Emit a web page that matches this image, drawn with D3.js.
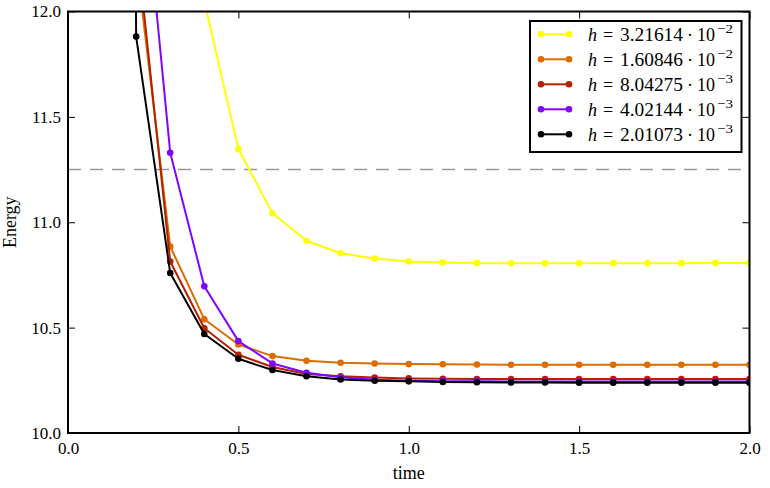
<!DOCTYPE html>
<html>
<head>
<meta charset="utf-8">
<script src="https://cdn.jsdelivr.net/npm/d3@7"></script>
<style>
  html, body { margin: 0; padding: 0; background: #fff; }
  svg { display: block; }
</style>
</head>
<body>
<svg id="chart" width="770" height="488"></svg>
<script>
// ---------- data ----------
const times = [0.1, 0.2, 0.3, 0.4, 0.5, 0.6, 0.7, 0.8, 0.9, 1.0,
               1.1, 1.2, 1.3, 1.4, 1.5, 1.6, 1.7, 1.8, 1.9, 2.0];

const seriesNames = ["3.21614", "1.60846", "8.04275", "4.02144", "2.01073"];
const seriesExps  = ["−2", "−2", "−3", "−3", "−3"];
const seriesColors = ["#ffff00", "#dd6c00", "#b42000", "#8004ff", "#000000"];

const energyH1 = [20.0, 16.0, 13.5, 12.05, 11.348, 11.043, 10.912, 10.853, 10.828, 10.814,
                  10.809, 10.806, 10.805, 10.805, 10.805, 10.806, 10.806, 10.806, 10.807, 10.807];
const energyH2 = [25.0, 12.25, 10.885, 10.540, 10.420, 10.365, 10.343, 10.333, 10.330, 10.327,
                  10.326, 10.325, 10.324, 10.324, 10.324, 10.324, 10.324, 10.324, 10.324, 10.324];
const energyH3 = [26.0, 12.35, 10.814, 10.497, 10.371, 10.313, 10.280, 10.269, 10.263, 10.259,
                  10.257, 10.256, 10.256, 10.256, 10.256, 10.256, 10.256, 10.256, 10.256, 10.256];
const energyH4 = [30.0, 13.0, 11.330, 10.696, 10.436, 10.330, 10.286, 10.264, 10.253, 10.248,
                  10.246, 10.245, 10.244, 10.244, 10.244, 10.244, 10.244, 10.244, 10.244, 10.244];
const energyH5 = [40.0, 11.881, 10.759, 10.470, 10.352, 10.299, 10.269, 10.254, 10.248, 10.245,
                  10.242, 10.241, 10.240, 10.240, 10.239, 10.239, 10.239, 10.239, 10.239, 10.239];

const referenceEnergy = 11.25;
const xTicks = [0.0, 0.5, 1.0, 1.5, 2.0];
const yTicks = [10.0, 10.5, 11.0, 11.5, 12.0];
const xDomain = [0, 2];
const yDomain = [10, 12];

const allSeries = [energyH1, energyH2, energyH3, energyH4, energyH5];

// ---------- layout ----------
const FONT = "Liberation Serif";
const L = 68, R = 749.5, T = 11.5, B = 433;
const svg = d3.select("#chart");
const x = d3.scaleLinear().domain(xDomain).range([L, R]);
const y = d3.scaleLinear().domain(yDomain).range([B, T]);

svg.append("defs").append("clipPath").attr("id", "plotclip")
  .append("rect").attr("x", L).attr("y", T).attr("width", R - L).attr("height", B - T);

const plot = svg.append("g").attr("clip-path", "url(#plotclip)");

plot.append("line")
  .attr("x1", L).attr("x2", R)
  .attr("y1", y(referenceEnergy)).attr("y2", y(referenceEnergy))
  .attr("stroke", "#999").attr("stroke-width", 1.6)
  .attr("stroke-dasharray", "13,9");

const line = d3.line().x((d, i) => x(times[i])).y(d => y(d));

allSeries.forEach((vals, si) => {
  const g = plot.append("g");
  g.append("path").datum(vals)
    .attr("d", line)
    .attr("fill", "none")
    .attr("stroke", seriesColors[si])
    .attr("stroke-width", 2)
    .attr("stroke-linejoin", "round");
  g.selectAll("circle").data(vals).enter().append("circle")
    .attr("cx", (d, i) => x(times[i]))
    .attr("cy", d => y(d))
    .attr("r", 3.3)
    .attr("fill", seriesColors[si]);
});

// ---------- axes ----------
const fmt = d3.format(".1f");
const tickLen = 7;

const axB = svg.append("g").attr("transform", `translate(0,${B})`)
  .call(d3.axisBottom(x).tickValues(xTicks).tickFormat(fmt).tickSize(-tickLen).tickSizeOuter(0));
const axT = svg.append("g").attr("transform", `translate(0,${T})`)
  .call(d3.axisTop(x).tickValues(xTicks).tickFormat("").tickSize(-tickLen).tickSizeOuter(0));
const axLft = svg.append("g").attr("transform", `translate(${L},0)`)
  .call(d3.axisLeft(y).tickValues(yTicks).tickFormat(fmt).tickSize(-tickLen).tickSizeOuter(0));
const axRgt = svg.append("g").attr("transform", `translate(${R},0)`)
  .call(d3.axisRight(y).tickValues(yTicks).tickFormat("").tickSize(-tickLen).tickSizeOuter(0));

[axB, axT, axLft, axRgt].forEach(a => {
  a.attr("font-family", FONT).attr("font-size", 17);
  a.select(".domain").remove();
  a.selectAll(".tick line").attr("stroke", "#000").attr("stroke-width", 1);
  a.selectAll("text").attr("fill", "#000");
});
axB.selectAll(".tick text").attr("y", 21).attr("dy", "0");
axLft.selectAll(".tick text").attr("x", -7).attr("dy", "0.32em");

svg.append("rect").attr("x", L).attr("y", T).attr("width", R - L).attr("height", B - T)
  .attr("fill", "none").attr("stroke", "#000").attr("stroke-width", 2);

// axis labels
svg.append("text").attr("x", (L + R) / 2).attr("y", 479).attr("text-anchor", "middle")
  .attr("font-family", FONT).attr("font-size", 18).text("time");
svg.append("text").attr("transform", `translate(16,${(T + B) / 2}) rotate(-90)`)
  .attr("text-anchor", "middle").attr("font-family", FONT).attr("font-size", 18).text("Energy");

// ---------- legend ----------
const lg = svg.append("g");
lg.append("rect").attr("x", 530).attr("y", 21).attr("width", 211.5).attr("height", 131)
  .attr("fill", "#fff").attr("stroke", "#000").attr("stroke-width", 2);

seriesNames.forEach((nm, i) => {
  const cy = 34.3 + i * 25;
  const by = cy + 6.5;
  lg.append("line").attr("x1", 541).attr("x2", 569).attr("y1", cy).attr("y2", cy)
    .attr("stroke", seriesColors[i]).attr("stroke-width", 2);
  [541, 569].forEach(cx => lg.append("circle").attr("cx", cx).attr("cy", cy).attr("r", 3.3)
    .attr("fill", seriesColors[i]));
  const tx = (xx, str, opts = {}) => lg.append("text").attr("x", xx).attr("y", by + (opts.dy || 0))
    .attr("font-family", FONT).attr("font-size", opts.size || 18)
    .style("font-style", opts.italic ? "italic" : "normal")
    .attr("textLength", opts.len || null)
    .attr("lengthAdjust", "spacingAndGlyphs")
    .text(str);
  tx(588, "h", { italic: true });
  tx(603, "=");
  tx(620, nm, { len: 63 });
  tx(687, "·");
  tx(697, "10", { len: 18 });
  tx(717, seriesExps[i], { size: 13, dy: -8, len: 16 });
});
</script>
</body>
</html>
